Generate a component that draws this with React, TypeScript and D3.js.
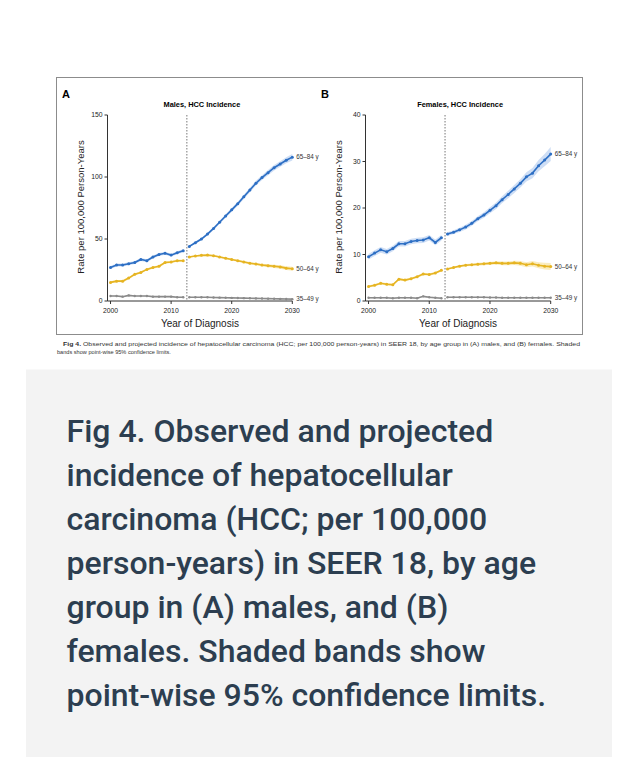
import React from 'react';
import * as d3 from 'd3';

const obsYears = [2000, 2001, 2002, 2003, 2004, 2005, 2006, 2007, 2008, 2009, 2010, 2011, 2012];
const projYears = [2013, 2014, 2015, 2016, 2017, 2018, 2019, 2020, 2021, 2022, 2023, 2024, 2025, 2026, 2027, 2028, 2029, 2030];
const xTicks = [2000, 2010, 2020, 2030];
const maleYTicks = [0, 50, 100, 150];
const femaleYTicks = [0, 10, 20, 30, 40];
const ageLabels = ['65–84 y', '50–64 y', '35–49 y'];

// Males
const male6584Obs = [27, 29, 29, 30, 31, 33.5, 32.5, 35.5, 37.5, 38.5, 37, 39, 40.5];
const male6584ObsCi = [1.2, 1.2, 1.2, 1.2, 1.2, 1.2, 1.2, 1.2, 1.2, 1.2, 1.2, 1.2, 1.2];
const male6584Proj = [44, 47, 50, 54, 58.5, 63.5, 68.5, 73.5, 78.5, 84, 89.5, 95, 99.5, 103.5, 107.5, 110.5, 113.5, 116];
const male6584ProjCi = [0.8, 0.9, 1, 1.1, 1.2, 1.3, 1.4, 1.5, 1.6, 1.7, 1.8, 1.9, 2, 2.1, 2.2, 2.3, 2.4, 2.6];
const male5064Obs = [15, 16, 16, 18.5, 21.5, 23, 25.5, 27, 28, 31, 31.5, 32.5, 32.5];
const male5064ObsCi = [0.9, 0.9, 0.9, 0.9, 0.9, 0.9, 0.9, 0.9, 0.9, 0.9, 0.9, 0.9, 0.9];
const male5064Proj = [35.5, 36.3, 36.8, 37, 36.5, 35.5, 34.5, 33.5, 32.5, 31.5, 30.5, 29.8, 29, 28.5, 28, 27.5, 26.5, 26];
const male5064ProjCi = [0.5, 0.5, 0.6, 0.6, 0.7, 0.7, 0.8, 0.8, 0.9, 0.9, 1, 1, 1.1, 1.2, 1.3, 1.4, 1.5, 1.6];
const male3549Obs = [4, 4, 3.5, 4.5, 4, 4, 4, 3.5, 3.5, 3.5, 3.5, 3, 3];
const male3549ObsCi = [0.4, 0.4, 0.4, 0.4, 0.4, 0.4, 0.4, 0.4, 0.4, 0.4, 0.4, 0.4, 0.4];
const male3549Proj = [3, 3, 3, 3, 2.8, 2.7, 2.6, 2.5, 2.4, 2.3, 2.2, 2.1, 2, 1.9, 1.8, 1.7, 1.6, 1.5];
const male3549ProjCi = [0.2, 0.2, 0.2, 0.2, 0.2, 0.2, 0.2, 0.3, 0.3, 0.3, 0.3, 0.3, 0.3, 0.3, 0.4, 0.4, 0.4, 0.4];

// Females
const female6584Obs = [9.5, 10.3, 11, 10.6, 11.3, 12.3, 12.3, 12.8, 13, 13.1, 13.6, 12.6, 13.6];
const female6584ObsCi = [0.6, 0.6, 0.6, 0.6, 0.6, 0.6, 0.6, 0.6, 0.6, 0.6, 0.6, 0.6, 0.6];
const female6584Proj = [14.4, 14.8, 15.3, 15.9, 16.7, 17.7, 18.5, 19.5, 20.5, 21.8, 22.9, 24.1, 25.3, 26.7, 27.5, 29.1, 30.3, 31.6];
const female6584ProjCi = [0.4, 0.4, 0.45, 0.5, 0.5, 0.55, 0.6, 0.65, 0.7, 0.75, 0.8, 0.85, 0.9, 1.0, 1.1, 1.2, 1.3, 1.5];
const female5064Obs = [3.1, 3.4, 3.8, 3.6, 3.5, 4.7, 4.5, 4.8, 5.2, 5.8, 5.7, 6.0, 6.6];
const female5064ObsCi = [0.25, 0.25, 0.25, 0.25, 0.25, 0.25, 0.25, 0.25, 0.25, 0.25, 0.25, 0.25, 0.25];
const female5064Proj = [6.9, 7.2, 7.5, 7.7, 7.8, 7.9, 8.0, 8.1, 8.2, 8.1, 8.1, 8.2, 8.1, 7.8, 8.0, 7.7, 7.5, 7.4];
const female5064ProjCi = [0.2, 0.2, 0.2, 0.25, 0.25, 0.3, 0.3, 0.3, 0.35, 0.4, 0.4, 0.45, 0.5, 0.55, 0.6, 0.65, 0.7, 0.75];
const female3549Obs = [0.7, 0.7, 0.7, 0.7, 0.6, 0.7, 0.7, 0.7, 0.6, 1.0, 0.8, 0.7, 0.6];
const female3549ObsCi = [0.15, 0.15, 0.15, 0.15, 0.15, 0.15, 0.15, 0.15, 0.15, 0.15, 0.15, 0.15, 0.15];
const female3549Proj = [0.8, 0.8, 0.8, 0.8, 0.8, 0.8, 0.8, 0.75, 0.75, 0.7, 0.7, 0.7, 0.7, 0.7, 0.7, 0.7, 0.7, 0.7];
const female3549ProjCi = [0.1, 0.1, 0.1, 0.1, 0.1, 0.1, 0.1, 0.1, 0.1, 0.1, 0.1, 0.1, 0.1, 0.1, 0.1, 0.1, 0.1, 0.1];

const captionLines = [
  'Fig 4. Observed and projected',
  'incidence of hepatocellular',
  'carcinoma (HCC; per 100,000',
  'person-years) in SEER 18, by age',
  'group in (A) males, and (B)',
  'females. Shaded bands show',
  'point-wise 95% confidence limits.',
];
const smallCaption1 = ' Observed and projected incidence of hepatocellular carcinoma (HCC; per 100,000 person-years) in SEER 18, by age group in (A) males, and (B) females. Shaded';
const smallCaption2 = 'bands show point-wise 95% confidence limits.';

const colors = ['#2d6fc4', '#e6b422', '#8a8a8a'];
const bands = ['rgba(80,135,220,0.28)', 'rgba(240,200,70,0.35)', 'rgba(150,150,150,0.3)'];

type Series = { obs: number[]; obsCi: number[]; proj: number[]; projCi: number[] };

const axisFont = "'Liberation Sans', Arial, sans-serif";
const narrowFont = "'Liberation Sans Narrow', 'Liberation Sans', Arial, sans-serif";

function Panel(props: {
  letter: string; title: string; xr: [number, number]; yMax: number; yTicks: number[];
  series: Series[]; letterX: number;
}) {
  const { letter, title, xr, yMax, yTicks, series, letterX } = props;
  const x = d3.scaleLinear().domain([1999.5, 2030]).range(xr);
  const y = d3.scaleLinear().domain([0, yMax]).range([301, 115]);
  const line = d3.line<[number, number]>().x(d => x(d[0])).y(d => y(d[1]));
  const area = d3.area<[number, number, number]>().x(d => x(d[0])).y0(d => y(d[1] - d[2])).y1(d => y(d[1] + d[2]));
  const cx = (xr[0] + xr[1]) / 2;
  const splitX = x(2012.6);
  return (
    <g>
      <text x={letterX} y={98} fontFamily={axisFont} fontWeight="bold" fontSize={11}>{letter}</text>
      <text x={cx + 2} y={107} textAnchor="middle" fontFamily={axisFont} fontWeight="bold" fontSize={7.4}>{title}</text>
      {series.map((s, i) => {
        const o = obsYears.map((yr, k) => [yr, s.obs[k], s.obsCi[k]] as [number, number, number]);
        const p = projYears.map((yr, k) => [yr, s.proj[k], s.projCi[k]] as [number, number, number]);
        return (
          <g key={i}>
            <path d={area(o) || ''} fill={bands[i]} />
            <path d={area(p) || ''} fill={bands[i]} />
          </g>
        );
      })}
      <line x1={splitX} x2={splitX} y1={115} y2={301} stroke="#777" strokeWidth={1} strokeDasharray="1.5,1.5" />
      {series.map((s, i) => {
        const o = obsYears.map((yr, k) => [yr, s.obs[k]] as [number, number]);
        const p = projYears.map((yr, k) => [yr, s.proj[k]] as [number, number]);
        return (
          <g key={i}>
            <path d={line(o) || ''} fill="none" stroke={colors[i]} strokeWidth={1.6} />
            <path d={line(p) || ''} fill="none" stroke={colors[i]} strokeWidth={1.6} />
            {o.concat(p).map((d, k) => (
              <circle key={k} cx={x(d[0])} cy={y(d[1])} r={i === 2 ? 1.2 : 1.5} fill={colors[i]} />
            ))}
            <text x={x(2030) + 4} y={y(s.proj[s.proj.length - 1]) + 2.2} fontFamily={axisFont} fontSize={6.3} fill="#333">{ageLabels[i]}</text>
          </g>
        );
      })}
      {/* y axis */}
      <line x1={xr[0]} x2={xr[0]} y1={y(yMax)} y2={301} stroke="#333" strokeWidth={1} />
      {yTicks.map(t => (
        <g key={t}>
          <line x1={xr[0] - 3} x2={xr[0]} y1={y(t)} y2={y(t)} stroke="#333" strokeWidth={1} />
          <text x={xr[0] - 5} y={y(t) + 2.4} textAnchor="end" fontFamily={axisFont} fontSize={6.8} fill="#222">{t}</text>
        </g>
      ))}
      {/* x axis */}
      <line x1={xr[0]} x2={x(2030)} y1={301} y2={301} stroke="#333" strokeWidth={1} />
      {xTicks.map(t => (
        <g key={t}>
          <line x1={x(t)} x2={x(t)} y1={301} y2={304} stroke="#333" strokeWidth={1} />
          <text x={x(t)} y={312.5} textAnchor="middle" fontFamily={axisFont} fontSize={6.8} fill="#222">{t}</text>
        </g>
      ))}
      <text x={cx} y={327} textAnchor="middle" fontFamily={narrowFont} fontSize={10} fill="#222">Year of Diagnosis</text>
      <text transform={`translate(${xr[0] - 23.5},207) rotate(-90)`} textAnchor="middle" fontFamily={narrowFont} fontSize={9.5} fill="#222">Rate per 100,000 Person-Years</text>
    </g>
  );
}

export default function App() {
  const maleSeries: Series[] = [
    { obs: male6584Obs, obsCi: male6584ObsCi, proj: male6584Proj, projCi: male6584ProjCi },
    { obs: male5064Obs, obsCi: male5064ObsCi, proj: male5064Proj, projCi: male5064ProjCi },
    { obs: male3549Obs, obsCi: male3549ObsCi, proj: male3549Proj, projCi: male3549ProjCi },
  ];
  const femaleSeries: Series[] = [
    { obs: female6584Obs, obsCi: female6584ObsCi, proj: female6584Proj, projCi: female6584ProjCi },
    { obs: female5064Obs, obsCi: female5064ObsCi, proj: female5064Proj, projCi: female5064ProjCi },
    { obs: female3549Obs, obsCi: female3549ObsCi, proj: female3549Proj, projCi: female3549ProjCi },
  ];
  return (
    <svg width={636} height={757} style={{ position: 'absolute', left: 0, top: 0, background: '#fff' }}>
      <rect x={56.5} y={77.5} width={526} height={257} fill="#fff" stroke="#8c8c8c" strokeWidth={1} />
      <Panel letter="A" title="Males, HCC Incidence" xr={[107.5, 292.3]} yMax={150} yTicks={maleYTicks} series={maleSeries} letterX={62} />
      <Panel letter="B" title="Females, HCC Incidence" xr={[365.5, 550.7]} yMax={40} yTicks={femaleYTicks} series={femaleSeries} letterX={321} />
      <text x={63} y={346} fontFamily={axisFont} fontSize={5.6} fill="#333" textLength={517} lengthAdjust="spacingAndGlyphs">
        <tspan fontWeight="bold">Fig 4.</tspan>{smallCaption1}
      </text>
      <text x={57} y={354} fontFamily={axisFont} fontSize={5.6} fill="#333">{smallCaption2}</text>
      <rect x={26} y={369.5} width={586} height={388} fill="#f3f3f3" />
      {captionLines.map((l, i) => (
        <text key={i} x={66.5} y={441.7 + i * 44} fontFamily="Roboto, sans-serif" fontWeight={500} fontSize={32} fill="#2c3e50">{l}</text>
      ))}
    </svg>
  );
}
